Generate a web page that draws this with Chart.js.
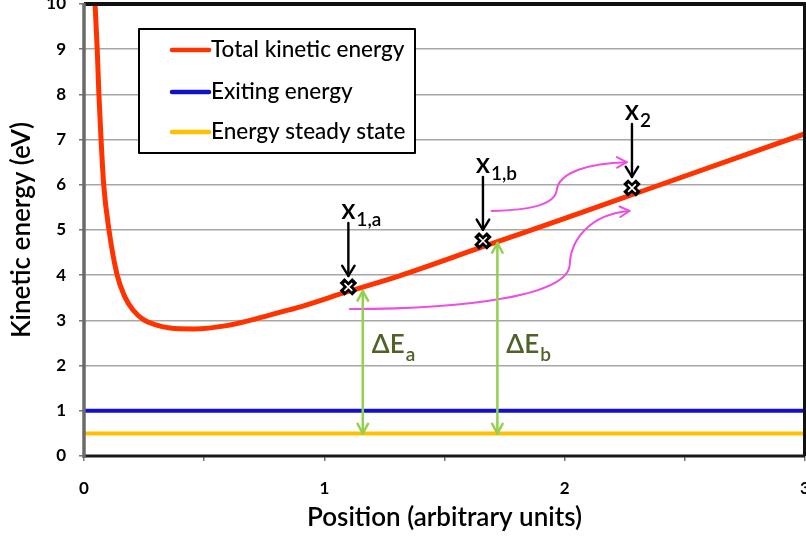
<!DOCTYPE html>
<html>
<head>
<meta charset="utf-8">
<script src="https://cdn.jsdelivr.net/npm/chart.js@4"></script>
<style>
  html, body { margin: 0; padding: 0; background: #fff; }
  #wrap { width: 806px; height: 537px; }
</style>
</head>
<body>
<div id="wrap"><canvas id="c" width="806" height="537"></canvas></div>
<script>
// Total kinetic energy along the position axis
const positionX = [0.045, 0.055, 0.062, 0.071, 0.082, 0.104, 0.138, 0.170, 0.204, 0.249, 0.299, 0.358, 0.457, 0.6, 0.69, 0.83, 0.9, 1.1, 1.31, 1.66, 1.98, 2.28, 3.0];
const kineticEnergy = [10.1, 9, 8, 7, 6, 5, 4, 3.52, 3.23, 3.01, 2.9, 2.83, 2.81, 2.89, 3.0, 3.2, 3.3, 3.64, 3.98, 4.63, 5.22, 5.78, 7.13];

// Constant reference levels
const levelX = [0, 3];
const exitingEnergy = [1, 1];
const steadyEnergy = [0.5, 0.5];

// Marked positions on the curve
const pointX = [1.10, 1.66, 2.28];
const pointY = [3.74, 4.76, 5.93];
const pointSub = ['1,a', '1,b', '2'];

// Energy gaps between the curve and the steady state
const deltaX = [1.16, 1.72];
const deltaTop = [3.65, 4.71];
const deltaSub = ['a', 'b'];

// Tick values
const yTickValues = [0, 1, 2, 3, 4, 5, 6, 7, 8, 9, 10];
const xTickValues = [0, 0.5, 1, 1.5, 2, 2.5, 3];
const xTickLabels = [0, 1, 2, 3];

// Transfer arrows (start, then two cubic segments), in axis units
const transferLow = [[1.106, 3.25], [1.605, 3.25], [2.012, 3.56], [2.021, 4.23], [2.025, 4.78], [2.104, 5.35], [2.270, 5.42]];
const transferHigh = [[1.696, 5.42], [1.854, 5.44], [1.958, 5.55], [1.967, 5.88], [1.975, 6.28], [2.104, 6.48], [2.258, 6.50]];

const FONT = 'Lato, "Open Sans", "DejaVu Sans", sans-serif';
Chart.defaults.font.family = FONT;
Chart.defaults.color = '#000';

const pts = (xs, ys) => xs.map((v, i) => ({ x: v, y: ys[i] }));

function vHead(ctx, tx, ty, ang, len, spread) {
  ctx.beginPath();
  ctx.moveTo(tx - len * Math.cos(ang - spread), ty - len * Math.sin(ang - spread));
  ctx.lineTo(tx, ty);
  ctx.lineTo(tx - len * Math.cos(ang + spread), ty - len * Math.sin(ang + spread));
  ctx.stroke();
}

// keep tick labels from shrinking the plot area
function noLabelPadding(s) {
  s.paddingLeft = 0;
  s.paddingRight = 0;
  s.paddingTop = 0;
  s.paddingBottom = 0;
}

const overlay = {
  id: 'overlay',
  afterDatasetsDraw(chart) {
    const { ctx, chartArea: a, scales: { x, y } } = chart;
    const data = chart.data.datasets;
    ctx.save();
    ctx.lineCap = 'round';
    ctx.lineJoin = 'round';

    // magenta transfer arrows
    ctx.strokeStyle = '#ee4fe0';
    ctx.lineWidth = 2;
    [transferLow, transferHigh].forEach(p => {
      const P = p.map(q => [x.getPixelForValue(q[0]), y.getPixelForValue(q[1])]);
      ctx.beginPath();
      ctx.moveTo(P[0][0], P[0][1]);
      ctx.bezierCurveTo(P[1][0], P[1][1], P[2][0], P[2][1], P[3][0], P[3][1]);
      ctx.bezierCurveTo(P[4][0], P[4][1], P[5][0], P[5][1], P[6][0], P[6][1]);
      ctx.stroke();
      const ang = Math.atan2(P[6][1] - P[5][1], P[6][0] - P[5][0]);
      vHead(ctx, P[6][0], P[6][1], ang, 11, 0.5);
    });

    // green energy-gap arrows with labels
    ctx.strokeStyle = '#92d050';
    ctx.lineWidth = 2.5;
    deltaX.forEach((dx, i) => {
      const px = x.getPixelForValue(dx);
      const top = y.getPixelForValue(deltaTop[i]);
      const bot = y.getPixelForValue(steadyEnergy[0]);
      ctx.beginPath();
      ctx.moveTo(px, top);
      ctx.lineTo(px, bot);
      ctx.stroke();
      vHead(ctx, px, top, -Math.PI / 2, 11, 0.5);
      vHead(ctx, px, bot, Math.PI / 2, 11, 0.5);
      ctx.fillStyle = '#4f6228';
      ctx.textBaseline = 'alphabetic';
      ctx.textAlign = 'left';
      ctx.font = '600 26px ' + FONT;
      const ty = y.getPixelForValue(2.28);
      ctx.fillText('\u0394E', px + 9, ty);
      const w = ctx.measureText('\u0394E').width;
      ctx.font = '600 19px ' + FONT;
      ctx.fillText(deltaSub[i], px + 10 + w, ty + 8);
    });

    // black pointer arrows and position labels
    ctx.strokeStyle = '#000';
    ctx.fillStyle = '#000';
    ctx.lineWidth = 2.4;
    pointX.forEach((vx, i) => {
      const px = x.getPixelForValue(vx);
      const py = y.getPixelForValue(pointY[i]);
      ctx.beginPath();
      ctx.moveTo(px, py - 64);
      ctx.lineTo(px, py - 11);
      ctx.stroke();
      vHead(ctx, px, py - 11, Math.PI / 2, 12, 0.55);
      ctx.textAlign = 'center';
      ctx.font = '600 28px ' + FONT;
      ctx.fillText('x', px, py - 68);
      ctx.textAlign = 'left';
      ctx.font = '600 19px ' + FONT;
      ctx.fillText(pointSub[i], px + 8, py - 61);
    });

    // plot frame
    ctx.lineCap = 'butt';
    ctx.strokeStyle = '#111';
    ctx.lineWidth = 4;
    ctx.beginPath();
    ctx.moveTo(a.left, a.top);
    ctx.lineTo(a.right, a.top);
    ctx.lineTo(a.right, a.bottom);
    ctx.stroke();
    ctx.strokeStyle = '#1a1a1a';
    ctx.lineWidth = 3;
    ctx.beginPath();
    ctx.moveTo(a.left, a.bottom);
    ctx.lineTo(a.right, a.bottom);
    ctx.stroke();
    ctx.strokeStyle = '#6a6a6a';
    ctx.lineWidth = 3.5;
    ctx.beginPath();
    ctx.moveTo(a.left, a.top - 1);
    ctx.lineTo(a.left, a.bottom + 2);
    ctx.stroke();

    // legend box
    const bx = a.left + 55, by = a.top + 25, bw = 276, bh = 124;
    ctx.fillStyle = '#fff';
    ctx.fillRect(bx, by, bw, bh);
    ctx.strokeStyle = '#000';
    ctx.lineWidth = 2;
    ctx.strokeRect(bx, by, bw, bh);
    const rows = [21, 63, 103];
    [2, 3, 4].forEach((di, r) => {
      const ds = data[di];
      const ry = by + rows[r];
      ctx.strokeStyle = ds.borderColor;
      ctx.lineWidth = 4.5;
      ctx.lineCap = 'round';
      ctx.beginPath();
      ctx.moveTo(bx + 33, ry);
      ctx.lineTo(bx + 70, ry);
      ctx.stroke();
      ctx.fillStyle = '#000';
      ctx.font = '500 22.5px ' + FONT;
      ctx.textAlign = 'left';
      ctx.textBaseline = 'middle';
      ctx.fillText(ds.label, bx + 72, ry);
    });
    ctx.restore();
  }
};

new Chart(document.getElementById('c'), {
  type: 'line',
  data: {
    datasets: [
      {
        label: 'marker-inner',
        data: pts(pointX, pointY),
        showLine: false,
        pointStyle: 'crossRot',
        pointRadius: 5.5,
        pointBorderWidth: 1.6,
        pointBorderColor: '#fff',
        borderColor: '#fff'
      },
      {
        label: 'marker',
        data: pts(pointX, pointY),
        showLine: false,
        pointStyle: 'crossRot',
        pointRadius: 9,
        pointBorderWidth: 7,
        pointBorderColor: '#000',
        borderColor: '#000'
      },
      {
        label: 'Total kinetic energy',
        data: pts(positionX, kineticEnergy),
        borderColor: '#ff3300',
        borderWidth: 5,
        cubicInterpolationMode: 'monotone',
        pointRadius: 0,
        borderCapStyle: 'round'
      },
      {
        label: 'Exiting energy',
        data: pts(levelX, exitingEnergy),
        borderColor: '#1111cc',
        borderWidth: 4,
        pointRadius: 0
      },
      {
        label: 'Energy steady state',
        data: pts(levelX, steadyEnergy),
        borderColor: '#ffc000',
        borderWidth: 4,
        pointRadius: 0
      }
    ]
  },
  options: {
    responsive: false,
    animation: false,
    devicePixelRatio: 1,
    layout: { autoPadding: false, padding: { top: 4, right: 1, left: 0, bottom: 0 } },
    plugins: { legend: { display: false }, tooltip: { enabled: false } },
    scales: {
      x: {
        type: 'linear',
        min: 0,
        max: 3,
        afterFit(s) { s.height = 81; noLabelPadding(s); },
        afterBuildTicks(s) { s.ticks = xTickValues.map(v => ({ value: v })); },
        ticks: {
          autoSkip: false,
          maxRotation: 0,
          padding: 17,
          font: { size: 17, weight: 'bold' },
          callback: v => (xTickLabels.includes(v) ? String(v) : '')
        },
        grid: { drawOnChartArea: false, tickLength: 5, tickColor: '#777', lineWidth: 1.5 },
        border: { display: false },
        title: {
          display: true,
          text: 'Position (arbitrary units)',
          font: { size: 26, weight: '600' },
          padding: { top: 0, bottom: 4 }
        }
      },
      y: {
        min: 0,
        max: 10,
        afterFit(s) { s.width = 84; noLabelPadding(s); },
        afterBuildTicks(s) { s.ticks = yTickValues.map(v => ({ value: v })); },
        ticks: {
          padding: 13,
          font: { size: 17, weight: 'bold' }
        },
        grid: { color: '#a6a6a6', lineWidth: 1.5, tickLength: 5, tickColor: '#777' },
        border: { display: false },
        title: {
          display: true,
          text: 'Kinetic energy (eV)',
          font: { size: 26, weight: '600' },
          padding: { top: 6, bottom: 6 }
        }
      }
    }
  },
  plugins: [overlay]
});
</script>
</body>
</html>
